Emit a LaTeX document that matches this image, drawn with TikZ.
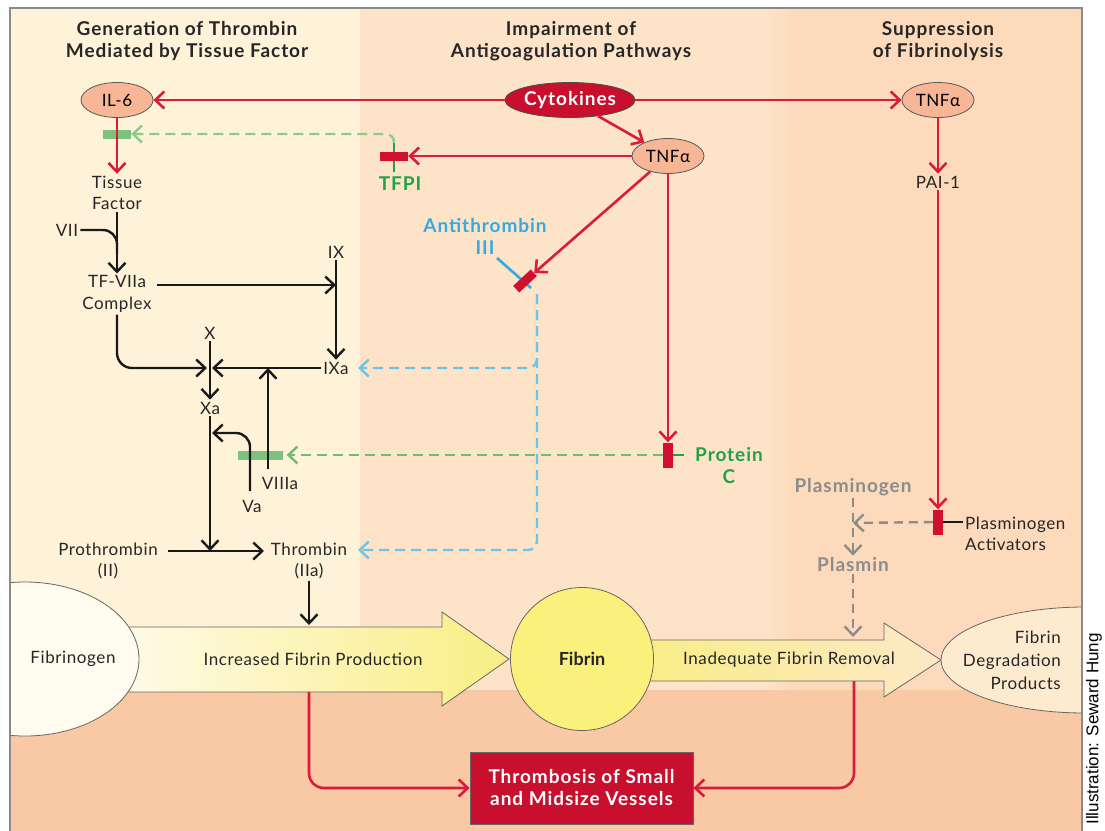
\documentclass[tikz,border=0pt]{standalone}
\usepackage{fontspec}
\setmainfont{Lato}
\newfontfamily\lblfont[LetterSpace=3.5]{Lato}
\newfontfamily\bldfont[LetterSpace=5]{Lato}
\newfontfamily\arialfont{Liberation Sans}
\usetikzlibrary{arrows.meta,shapes.geometric,calc}
\definecolor{bgL}{HTML}{FEF2D8}
\definecolor{bgM}{HTML}{FDE4C8}
\definecolor{bgR}{HTML}{FCDABB}
\definecolor{bgB}{HTML}{F9C9A6}
\definecolor{framec}{HTML}{8A8A8A}
\definecolor{crim}{HTML}{DC1A3C}
\definecolor{barred}{HTML}{D0102E}
\definecolor{cytred}{HTML}{C8102E}
\definecolor{salm}{HTML}{F7B695}
\definecolor{gtxt}{HTML}{24A045}
\definecolor{lgreen}{HTML}{8CCB8C}
\definecolor{mgreen}{HTML}{6DBE6D}
\definecolor{gbar}{HTML}{7CC27C}
\definecolor{btxt}{HTML}{35A9E0}
\definecolor{bdsh}{HTML}{6EC3EA}
\definecolor{grtx}{HTML}{8C8C8C}
\definecolor{aone}{HTML}{FFFBEC}
\definecolor{atwo}{HTML}{F9EE84}
\definecolor{athree}{HTML}{FCE8C6}
\definecolor{fibc}{HTML}{FAF07C}
\definecolor{fbgc}{HTML}{FFFBEF}
\definecolor{fdpc}{HTML}{FDEBD0}
\begin{document}
\begin{tikzpicture}[x=1pt,y=-1pt,
  hdr/.style={font=\bldfont\bfseries\fontsize{19}{22}\selectfont, align=center, text=black!85},
  lbl/.style={font=\lblfont\fontsize{17}{21.5}\selectfont, align=center, text=black!85, inner sep=2pt},
  blbl/.style={font=\bldfont\bfseries\fontsize{19}{22}\selectfont, align=center, inner sep=2pt},
  gtext/.style={blbl, text=gtxt},
  btext/.style={blbl, text=btxt},
  grtext/.style={blbl, text=grtx},
  ell/.style={ellipse, draw=black!65, line width=0.8pt, fill=salm, minimum width=72pt, minimum height=35pt, inner sep=0pt, font=\lblfont\fontsize{17}{20}\selectfont},
  cyto/.style={ellipse, draw=black!70, line width=0.8pt, fill=cytred, minimum width=115pt, minimum height=35pt, inner sep=0pt, text=white, font=\bldfont\bfseries\fontsize{19}{20}\selectfont},
  ah/.style={-{Straight Barb[length=9pt,width=17pt]}},
  rl/.style={draw=crim, line width=2.6pt},
  bl/.style={draw=black!90, line width=2.4pt},
  gdash/.style={draw=lgreen, line width=2.4pt, dash pattern=on 10pt off 6pt},
  gdash2/.style={draw=mgreen, line width=2.4pt, dash pattern=on 10pt off 6pt},
  bdash/.style={draw=bdsh, line width=2.4pt, dash pattern=on 10pt off 6pt},
  grdash/.style={draw=grtx, line width=2.4pt, dash pattern=on 9pt off 6pt},
  gtick/.style={draw=gtxt, line width=2.2pt},
  btick/.style={draw=btxt, line width=2.6pt},
  rbarh/.style={rectangle, fill=barred, minimum width=28pt, minimum height=9pt, inner sep=0pt},
  rbarv/.style={rectangle, fill=barred, minimum width=10pt, minimum height=25pt, inner sep=0pt},
  gbarh/.style={rectangle, fill=gbar, minimum height=9pt, inner sep=0pt},
  tbox/.style={rectangle, draw=black!60, line width=0.8pt, fill=cytred, minimum width=223pt, minimum height=72pt, text=white, align=center, font=\bldfont\bfseries\fontsize{19}{22}\selectfont}
]
\useasboundingbox (0,0) rectangle (1105,830);
\fill[white] (0,0) rectangle (1105,830);
% backgrounds
\fill[bgL] (10,8) rectangle (360,690);
\fill[bgM] (360,8) rectangle (780,690);
\fill[bgR] (780,8) rectangle (1082,690);
\shade[left color=bgM, right color=bgR] (765,8) rectangle (795,690);
\fill[bgB] (10,690) rectangle (1082,840);

% headers
\node[hdr] (h1) at (187,41) {Generation of Thrombin\\Mediated by Tissue Factor};
\node[hdr] (h2) at (571,41) {Impairment of\\Antigoagulation Pathways};
\node[hdr] (h3) at (938,41) {Suppression\\of Fibrinolysis};

% top ellipses
\node[ell] (il6) at (117,100) {IL-6};
\node[cyto] (cyt) at (570,100) {Cytokines};
\node[ell] (tnfm) at (668,156) {TNFα};
\node[ell] (tnfr) at (938,100) {TNFα};
\draw[rl,ah] (cyt) -- (il6);
\draw[rl,ah] (cyt) -- (tnfr);
\draw[rl,ah] (cyt) -- (tnfm);

% TFPI
\coordinate (tfpitop) at (394,143);
\coordinate (tfpibot) at (394,172);
\draw[gtick] (tfpitop) -- (tfpibot);
\node[rbarh] (tfpibar) at (394,156) {};
\draw[rl,ah] (tnfm) -- (tfpibar);
\node[gtext] (tfpi) at (400,184) {TFPI};
\node[gbarh, minimum width=28pt] (gb1) at (117,134) {};
\draw[gdash,ah,rounded corners=8pt] (tfpitop) |- (gb1);

% tissue factor pathway
\node[lbl] (tf) at (117,193) {Tissue\\Factor};
\draw[rl,ah] (il6) -- (tf);
\node[lbl] (vii) at (67,230) {VII};
\node[lbl] (tfc) at (117,294) {TF-VIIa\\Complex};
\draw[bl,ah] (tf) -- (tfc);
\coordinate (viij) at (117,254);
\draw[bl,rounded corners=14pt] (vii.east) -| (viij);

\node[lbl] (ix) at (336,252) {IX};
\coordinate (ixj) at (336,285);
\coordinate (tfcr) at (157,285);
\draw[bl,ah] (tfcr) -- (ixj);
\node[lbl] (ixa) at (336,368) {IXa};
\draw[bl,ah] (ix) -- (ixa);

\node[lbl] (x) at (210,333) {X};
\node[lbl] (xa) at (210,408) {Xa};
\coordinate (xj) at (210,368);
\draw[bl,ah,shorten >=2pt] (ixa) -- (xj);
\draw[bl,ah,rounded corners=15pt,shorten >=3pt] (tfc.south) |- (xj);
\draw[bl,ah] (x) -- (xa);

% VIIIa and Va
\node[gbarh, minimum width=45pt] (gb2) at (260,455) {};
\node[lbl] (viiia) at (280,483) {VIIIa};
\coordinate (viiib) at (268,469);
\coordinate (viiit) at (268,368);
\draw[bl,ah] (viiib) -- (viiit);
\node[lbl] (va) at (252,506) {Va};
\coordinate (vab) at (250,491);
\coordinate (vaj) at (212,433);
\draw[bl,ah,rounded corners=14pt] (vab) |- (vaj);

% prothrombin -> thrombin
\node[lbl] (pt) at (108,561) {Prothrombin\\(II)};
\node[lbl] (th) at (309,561) {Thrombin\\(IIa)};
\coordinate (ptj) at (210,551);
\draw[bl,ah] (xa) -- (ptj);
\coordinate (pts) at (168,551);
\coordinate (pte) at (264,551);
\draw[bl,ah] (pts) -- (pte);
\coordinate (a1top) at (309,625);
\draw[bl,ah] (th.south) -- (a1top);

% antithrombin
\node[btext] (at3) at (485,236) {Antithrombin\\III};
\coordinate (atb1) at (497,258);
\coordinate (atb2) at (531,288);
\draw[btick] (atb1) -- (atb2);
\node[rbarh, rotate=43, minimum width=24pt] (atbar) at (525,281) {};
\draw[rl,ah] (tnfm) -- (atbar);
\coordinate (bd0) at (537,294);
\coordinate (bdth) at (358,550);
\coordinate (bdix) at (358,368);
\draw[bdash,ah,rounded corners=9pt] (bd0) |- (bdth);
\draw[bdash,ah,rounded corners=9pt] (bd0) |- (bdix);

% protein C
\node[rbarv] (pcbar) at (668,455) {};
\draw[rl,ah] (tnfm) -- (pcbar);
\node[gtext] (pc) at (729,466) {Protein\\C};
\coordinate (pct) at (684,455);
\draw[gtick] (pcbar.east) -- (pct);
\draw[gdash2,ah,shorten >=4pt] (pcbar.west) -- (gb2.east);

% fibrinolysis
\node[lbl] (pai) at (938,182) {PAI-1};
\draw[rl,ah] (tnfr) -- (pai);
\node[rbarv] (pabar) at (938,522) {};
\draw[rl,ah] (pai) -- (pabar);
\node[lbl, align=left, anchor=west] (pa) at (963,534) {Plasminogen\\Activators};
\draw[draw=black!90, line width=2pt] (pabar.east) -- (pa.west |- pabar);
\node[grtext] (pg) at (853,487) {Plasminogen};
\node[grtext] (pm) at (853,565) {Plasmin};
\coordinate (pgj) at (853,523);
\draw[grdash,ah] (pabar.west) -- (pgj);
\draw[grdash,ah] (pg) -- (pm);
\coordinate (a2top) at (853,637);
\draw[grdash,ah] (pm) -- (a2top);

% big arrows
\shade[left color=aone, right color=atwo, draw=black!60, line width=0.8pt]
  (100,627) -- (442,627) -- (442,612) -- (509,659) -- (442,706) -- (442,692) -- (100,692) -- cycle;
\shade[left color=atwo, right color=athree, draw=black!60, line width=0.8pt]
  (620,640) -- (884,640) -- (884,623) -- (941,660) -- (884,697) -- (884,681) -- (620,681) -- cycle;
\begin{scope}
\clip (10,8) rectangle (1082,840);
\node[ellipse, fill=fbgc, draw=black!60, line width=0.8pt, minimum width=228pt, minimum height=154pt] (fbg) at (25,659) {};
\node[ellipse, fill=fdpc, draw=black!60, line width=0.8pt, minimum width=288pt, minimum height=106pt] (fdp) at (1085,660) {};
\end{scope}
\node[circle, fill=fibc, draw=black!60, line width=0.8pt, minimum size=143pt, inner sep=0pt, font=\bfseries\fontsize{18}{20}\selectfont, text=black!85] (fib) at (582,659) {Fibrin};
\node[lbl] (fbgt) at (73,659) {Fibrinogen};
\node[lbl] (a1t) at (313,659) {Increased Fibrin Production};
\node[lbl] (a2t) at (789,660) {Inadequate Fibrin Removal};
\node[lbl, align=right, anchor=east, font=\lblfont\fontsize{17}{23}\selectfont] (fdpt) at (1063,660) {Fibrin\\Degradation\\Products};

% thrombosis
\node[tbox] (thb) at (581.5,788) {Thrombosis of Small\\and Midsize Vessels};
\coordinate (a1bot) at (309,692);
\coordinate (a2bot) at (854,681);
\draw[rl,ah,rounded corners=15pt] (a1bot) |- (thb.west);
\draw[rl,ah,rounded corners=15pt] (a2bot) |- (thb.east);

% frame
\draw[framec, line width=1.5pt] (10,840) -- (10,8) -- (1082,8) -- (1082,840);

% credit
\node[font=\arialfont\fontsize{17}{20}\selectfont, rotate=90, anchor=east, inner sep=0pt] (cred) at (1094,633) {Illustration: Seward Hung};
\end{tikzpicture}
\end{document}
